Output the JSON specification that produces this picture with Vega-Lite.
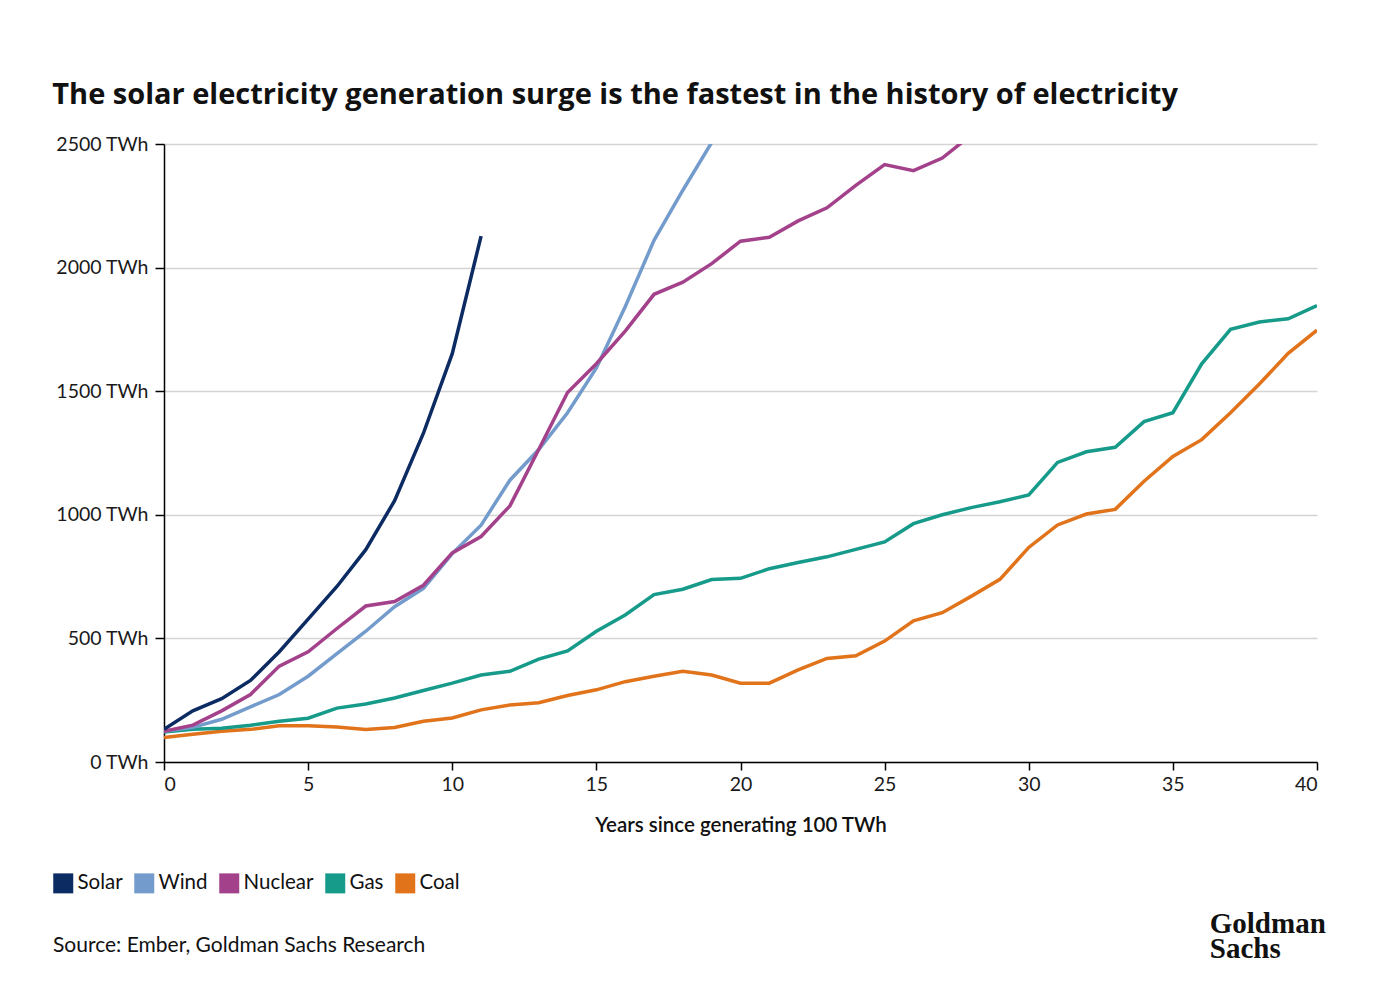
{
  "$schema": "https://vega.github.io/schema/vega-lite/v6.json",
  "background": "white",
  "padding": {"left": 52, "top": 81, "right": 50, "bottom": 20},
  "config": {
    "font": "Lato",
    "view": {"stroke": null},
    "axis": {
      "domainColor": "#000000",
      "domainWidth": 1.5,
      "tickColor": "#000000",
      "tickWidth": 1.5,
      "labelColor": "#1a1a1a",
      "labelFont": "Lato",
      "labelFontSize": 19.5,
      "gridColor": "#d4d4d4",
      "gridWidth": 1.5
    }
  },
  "title": {
    "text": ["Goldman", "Sachs"],
    "orient": "bottom",
    "anchor": "end",
    "align": "left",
    "dx": -108,
    "font": "Liberation Serif",
    "fontWeight": "bold",
    "fontSize": 29,
    "lineHeight": 25,
    "color": "#111111",
    "offset": -46
  },
  "vconcat": [
    {
      "title": {
        "text": "The solar electricity generation surge is the fastest in the history of electricity",
        "anchor": "start",
        "dx": -3,
        "font": "Open Sans",
        "fontWeight": "bold",
        "fontSize": 29,
        "color": "#111111",
        "offset": 24
      },
      "width": 1153,
      "height": 618,
      "data": {
        "values": [
          {"year": 0, "Solar": 132, "Wind": 124, "Nuclear": 124, "Gas": 121, "Coal": 99},
          {"year": 1, "Solar": 207, "Wind": 140, "Nuclear": 149, "Gas": 132, "Coal": 112},
          {"year": 2, "Solar": 256, "Wind": 173, "Nuclear": 207, "Gas": 137, "Coal": 124},
          {"year": 3, "Solar": 330, "Wind": 223, "Nuclear": 273, "Gas": 149, "Coal": 132},
          {"year": 4, "Solar": 446, "Wind": 273, "Nuclear": 388, "Gas": 165, "Coal": 147},
          {"year": 5, "Solar": 578, "Wind": 347, "Nuclear": 446, "Gas": 177, "Coal": 147},
          {"year": 6, "Solar": 710, "Wind": 438, "Nuclear": 540, "Gas": 218, "Coal": 142},
          {"year": 7, "Solar": 859, "Wind": 529, "Nuclear": 631, "Gas": 235, "Coal": 131},
          {"year": 8, "Solar": 1057, "Wind": 628, "Nuclear": 649, "Gas": 259, "Coal": 140},
          {"year": 9, "Solar": 1330, "Wind": 702, "Nuclear": 715, "Gas": 289, "Coal": 165},
          {"year": 10, "Solar": 1652, "Wind": 843, "Nuclear": 846, "Gas": 319, "Coal": 178},
          {"year": 11, "Solar": 2127, "Wind": 958, "Nuclear": 912, "Gas": 352, "Coal": 211},
          {"year": 12, "Wind": 1140, "Nuclear": 1036, "Gas": 367, "Coal": 231},
          {"year": 13, "Wind": 1264, "Nuclear": 1264, "Gas": 416, "Coal": 240},
          {"year": 14, "Wind": 1413, "Nuclear": 1495, "Gas": 449, "Coal": 269},
          {"year": 15, "Wind": 1594, "Nuclear": 1611, "Gas": 529, "Coal": 292},
          {"year": 16, "Wind": 1842, "Nuclear": 1743, "Gas": 595, "Coal": 325},
          {"year": 17, "Wind": 2110, "Nuclear": 1892, "Gas": 677, "Coal": 347},
          {"year": 18, "Wind": 2313, "Nuclear": 1941, "Gas": 699, "Coal": 367},
          {"year": 19, "Wind": 2506, "Nuclear": 2016, "Gas": 738, "Coal": 352},
          {"year": 20, "Wind": 2720, "Nuclear": 2107, "Gas": 743, "Coal": 319},
          {"year": 21, "Nuclear": 2123, "Gas": 782, "Coal": 319},
          {"year": 22, "Nuclear": 2189, "Gas": 807, "Coal": 373},
          {"year": 23, "Nuclear": 2242, "Gas": 830, "Coal": 419},
          {"year": 24, "Nuclear": 2333, "Gas": 860, "Coal": 430},
          {"year": 25, "Nuclear": 2417, "Gas": 890, "Coal": 489},
          {"year": 26, "Nuclear": 2392, "Gas": 964, "Coal": 571},
          {"year": 27, "Nuclear": 2443, "Gas": 1000, "Coal": 604},
          {"year": 28, "Nuclear": 2536, "Gas": 1029, "Coal": 670},
          {"year": 29, "Gas": 1053, "Coal": 739},
          {"year": 30, "Gas": 1080, "Coal": 868},
          {"year": 31, "Gas": 1212, "Coal": 959},
          {"year": 32, "Gas": 1255, "Coal": 1003},
          {"year": 33, "Gas": 1273, "Coal": 1022},
          {"year": 34, "Gas": 1377, "Coal": 1136},
          {"year": 35, "Gas": 1413, "Coal": 1236},
          {"year": 36, "Gas": 1611, "Coal": 1304},
          {"year": 37, "Gas": 1750, "Coal": 1413},
          {"year": 38, "Gas": 1780, "Coal": 1529},
          {"year": 39, "Gas": 1793, "Coal": 1653},
          {"year": 40, "Gas": 1846, "Coal": 1747}
        ]
      },
      "transform": [
        {"fold": ["Coal", "Gas", "Wind", "Nuclear", "Solar"], "as": ["source", "value"]},
        {"filter": "datum.value != null"}
      ],
      "mark": {"type": "line", "strokeWidth": 3.5, "clip": true},
      "encoding": {
        "x": {
          "field": "year",
          "type": "quantitative",
          "scale": {"domain": [0, 40], "nice": false},
          "axis": {
            "values": [0, 5, 10, 15, 20, 25, 30, 35, 40],
            "grid": false,
            "tickSize": 8,
            "labelPadding": 5,
            "title": "Years since generating 100 TWh",
            "titleFont": "Lato",
            "titleFontSize": 20.5,
            "titleFontWeight": 600,
            "titleColor": "#111111",
            "titlePadding": 22
          }
        },
        "y": {
          "field": "value",
          "type": "quantitative",
          "scale": {"domain": [0, 2500], "nice": false},
          "axis": {
            "values": [0, 500, 1000, 1500, 2000, 2500],
            "labelExpr": "datum.value + ' TWh'",
            "tickSize": 9,
            "labelPadding": 7,
            "title": null
          }
        },
        "color": {
          "field": "source",
          "type": "nominal",
          "scale": {
            "domain": ["Solar", "Wind", "Nuclear", "Gas", "Coal"],
            "range": ["#0c2b63", "#739bcc", "#a3418b", "#169a8a", "#e1731b"]
          },
          "legend": {
            "orient": "none",
            "legendX": -111,
            "legendY": 729,
            "direction": "horizontal",
            "columns": 5,
            "symbolType": "square",
            "symbolSize": 400,
            "symbolStrokeWidth": 0,
            "labelFont": "Lato",
            "labelFontSize": 20.5,
            "labelColor": "#111111",
            "labelOffset": 4,
            "columnPadding": 11,
            "title": "Source: Ember, Goldman Sachs Research",
            "titleLimit": 1000,
            "titleOrient": "bottom",
            "titleAnchor": "start",
            "titleFont": "Lato",
            "titleFontSize": 21,
            "titleFontWeight": "normal",
            "titleColor": "#111111",
            "titlePadding": 41,
            "encode": {
              "symbols": {
                "update": {
                  "fill": {"scale": "color", "field": "value"},
                  "fillOpacity": {"value": 1}
                }
              }
            }
          }
        }
      }
    }
  ]
}
